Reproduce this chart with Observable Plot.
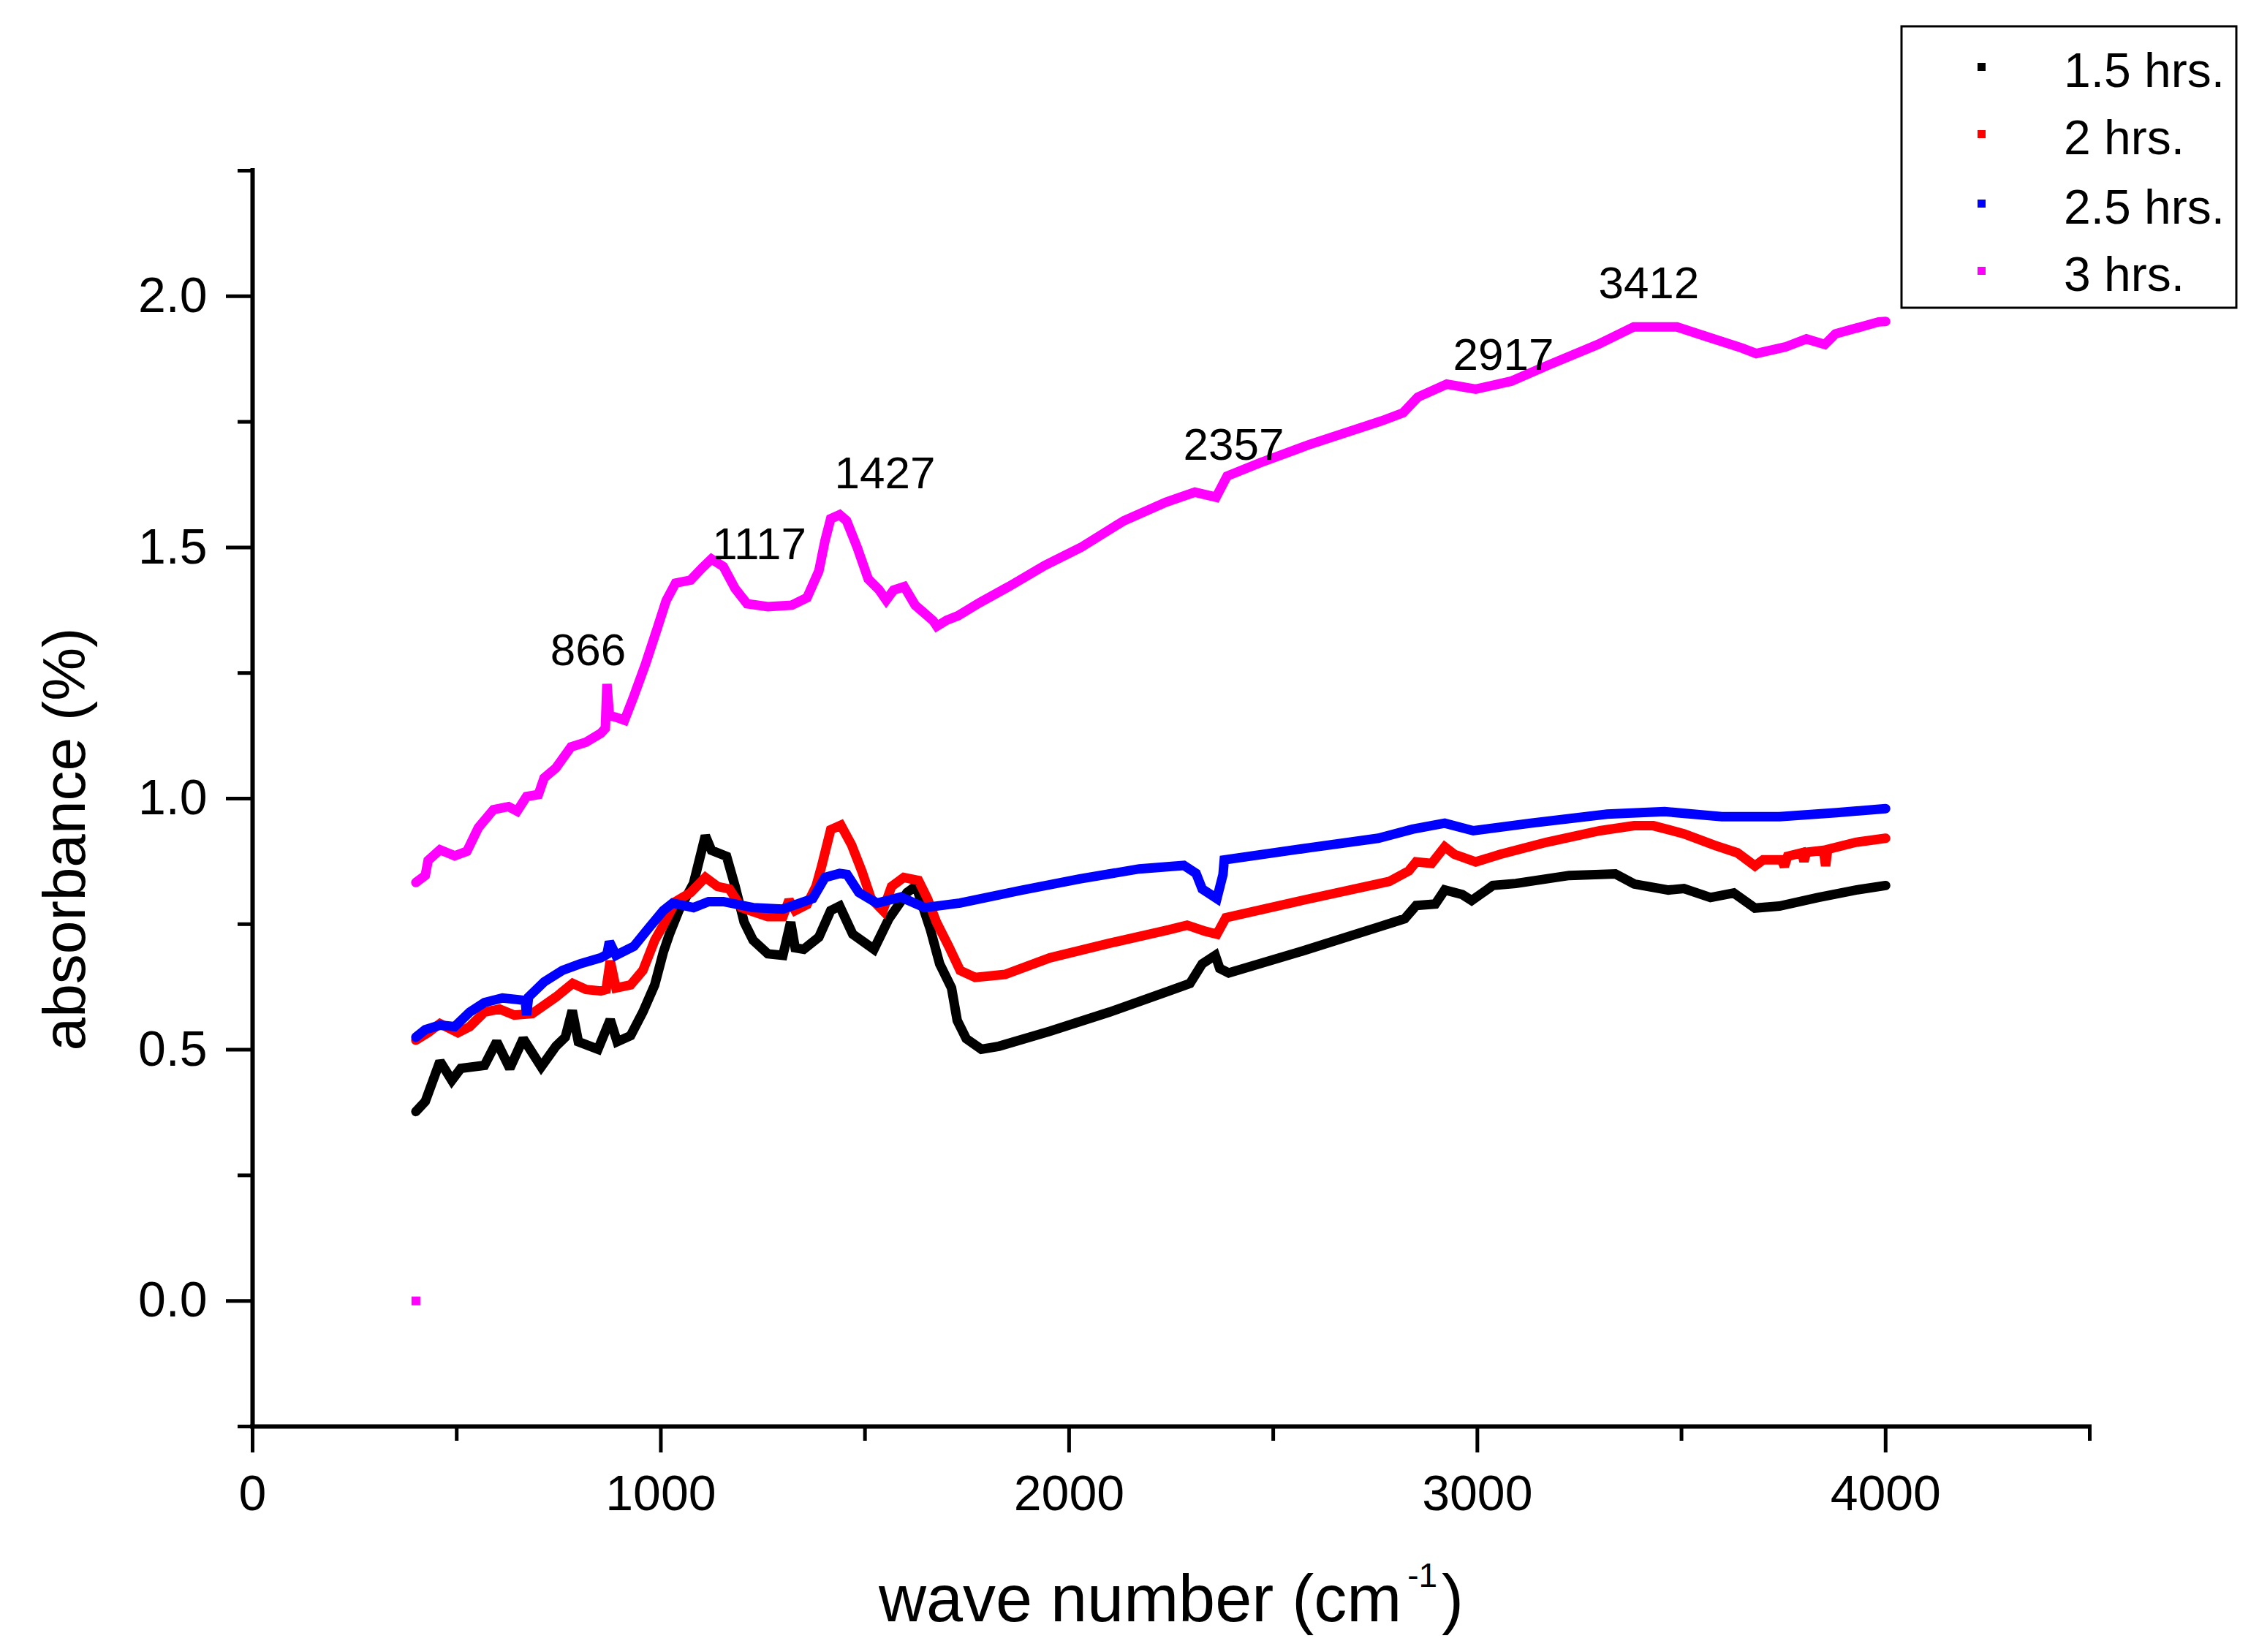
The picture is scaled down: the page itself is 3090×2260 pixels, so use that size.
<!DOCTYPE html>
<html><head><meta charset="utf-8">
<script src="https://cdn.jsdelivr.net/npm/d3@7"></script>
<script src="https://cdn.jsdelivr.net/npm/@observablehq/plot@0.6"></script>
<style>
html,body{margin:0;padding:0;background:#fff;}
#chart{position:relative;width:3090px;height:2260px;}
</style></head><body><div id="chart"></div>
<script>
const seriesNames = ["1.5 hrs.", "2 hrs.", "2.5 hrs.", "3 hrs."];
const seriesColors = ["#000000", "#ff0000", "#0000ff", "#ff00ff"];

const wn15 = [400,423,459,488,510,568,598,630,663,707,743,766,783,798,846,876,893,926,956,985,1006,1021,1044,1080,1109,1124,1161,1182,1204,1226,1262,1299,1318,1329,1350,1387,1416,1438,1470,1522,1558,1603,1625,1660,1683,1712,1726,1748,1785,1828,1953,2099,2245,2296,2326,2358,2369,2391,2569,2757,2822,2850,2897,2920,2963,2986,3038,3094,3225,3338,3384,3468,3506,3571,3628,3680,3740,3834,3927,4000];
const ab15 = [0.377,0.397,0.477,0.439,0.463,0.469,0.516,0.463,0.522,0.466,0.507,0.525,0.578,0.516,0.501,0.560,0.516,0.528,0.575,0.629,0.694,0.730,0.777,0.831,0.926,0.897,0.885,0.825,0.754,0.718,0.691,0.688,0.754,0.703,0.700,0.724,0.777,0.786,0.730,0.700,0.760,0.813,0.826,0.740,0.671,0.623,0.558,0.522,0.501,0.507,0.537,0.575,0.617,0.632,0.671,0.688,0.662,0.653,0.696,0.744,0.761,0.787,0.790,0.818,0.809,0.797,0.827,0.831,0.847,0.850,0.830,0.818,0.821,0.803,0.812,0.782,0.786,0.803,0.818,0.827];

const wn20 = [400,430,459,503,532,568,605,641,685,743,784,817,853,866,876,890,926,956,985,1006,1036,1073,1109,1139,1168,1197,1262,1299,1314,1329,1358,1380,1394,1416,1441,1467,1493,1515,1544,1565,1595,1631,1653,1675,1705,1733,1770,1843,1953,2099,2245,2289,2333,2362,2384,2569,2784,2832,2850,2888,2920,2944,2996,3056,3169,3300,3384,3431,3506,3581,3637,3680,3700,3745,3752,3760,3795,3800,3806,3848,3853,3858,3927,4000];
const ab20 = [0.519,0.534,0.552,0.534,0.546,0.575,0.581,0.569,0.572,0.605,0.632,0.620,0.617,0.620,0.677,0.623,0.629,0.658,0.718,0.748,0.795,0.813,0.843,0.825,0.820,0.783,0.765,0.765,0.798,0.777,0.789,0.825,0.866,0.938,0.947,0.908,0.854,0.801,0.777,0.825,0.843,0.837,0.801,0.754,0.706,0.658,0.644,0.650,0.683,0.712,0.739,0.748,0.736,0.730,0.763,0.797,0.835,0.856,0.874,0.871,0.904,0.889,0.874,0.889,0.913,0.936,0.946,0.946,0.930,0.907,0.892,0.866,0.878,0.878,0.865,0.885,0.892,0.875,0.893,0.897,0.866,0.899,0.913,0.921];

const wn25 = [400,423,459,495,532,568,612,648,668,671,676,714,759,802,853,868,874,890,934,970,1006,1029,1080,1117,1153,1226,1299,1372,1402,1438,1456,1485,1529,1588,1646,1733,1880,2026,2172,2281,2311,2326,2362,2377,2380,2587,2757,2841,2920,2990,3131,3318,3459,3599,3740,3880,4000];
const ab25 = [0.525,0.540,0.549,0.546,0.575,0.594,0.603,0.600,0.598,0.569,0.605,0.635,0.658,0.671,0.683,0.690,0.715,0.688,0.706,0.742,0.777,0.792,0.783,0.795,0.795,0.783,0.780,0.801,0.843,0.851,0.849,0.813,0.792,0.804,0.783,0.792,0.817,0.840,0.860,0.867,0.851,0.820,0.801,0.849,0.878,0.902,0.921,0.939,0.951,0.936,0.951,0.969,0.974,0.964,0.964,0.972,0.980];

const wn30 = [400,423,430,459,495,525,553,590,627,648,671,700,714,743,780,816,853,864,868,874,890,911,934,963,992,1013,1036,1073,1101,1124,1153,1182,1211,1262,1321,1358,1387,1402,1416,1438,1455,1481,1508,1534,1552,1570,1596,1623,1667,1676,1700,1728,1781,1852,1940,2029,2134,2237,2308,2360,2387,2466,2589,2766,2818,2854,2925,2996,3083,3171,3295,3383,3489,3560,3648,3683,3754,3806,3851,3877,3983,4000];
const ab30 = [0.833,0.847,0.877,0.898,0.886,0.895,0.942,0.978,0.984,0.975,1.004,1.008,1.041,1.061,1.103,1.112,1.130,1.140,1.228,1.165,1.162,1.156,1.204,1.269,1.341,1.394,1.429,1.435,1.459,1.477,1.462,1.418,1.388,1.382,1.385,1.400,1.453,1.513,1.557,1.565,1.553,1.500,1.437,1.416,1.395,1.415,1.422,1.385,1.354,1.343,1.355,1.364,1.390,1.422,1.464,1.500,1.553,1.590,1.610,1.600,1.642,1.668,1.705,1.752,1.768,1.799,1.825,1.815,1.831,1.862,1.904,1.939,1.939,1.920,1.897,1.886,1.899,1.915,1.904,1.925,1.949,1.950];

const strayWn = [400];
const strayAb = [0.0];

const peakLabels = ["866", "1117", "1427", "2357", "2917", "3412"];
const peakLabelWn = [822, 1241, 1549, 2403, 3064, 3420];
const peakLabelAb = [1.266, 1.477, 1.617, 1.675, 1.854, 1.996];

const xMajor = [0, 1000, 2000, 3000, 4000];
const xMinor = [500, 1500, 2500, 3500, 4500];
const yMajor = [0, 0.5, 1, 1.5, 2];
const yMinor = [-0.25, 0.25, 0.75, 1.25, 1.75, 2.25];

const toRows = (xs, ys) => xs.map((x, i) => ({x, y: ys[i]}));
const series = [toRows(wn15, ab15), toRows(wn20, ab20), toRows(wn25, ab25), toRows(wn30, ab30)];
const stray = toRows(strayWn, strayAb);
const peaks = peakLabels.map((t, i) => ({t, x: peakLabelWn[i], y: peakLabelAb[i]}));

const font = "'Liberation Sans', Arial, sans-serif";

const plot = Plot.plot({
  width: 3090, height: 2260,
  marginLeft: 345, marginRight: 232, marginTop: 233, marginBottom: 309,
  style: {fontFamily: font, background: "#fff", color: "#000", overflow: "visible"},
  x: {domain: [0, 4500], label: null},
  y: {domain: [-0.25, 2.25], label: null},
  marks: [
    Plot.axisX({ticks: xMajor, tickSize: 36, tickPadding: 30, fontSize: 68, strokeWidth: 5, tickFormat: d => String(d), label: null}),
    Plot.axisX({ticks: xMinor, tickSize: 20, strokeWidth: 5, tickFormat: () => "", label: null}),
    Plot.axisY({ticks: yMajor, tickSize: 36, tickPadding: 26, fontSize: 68, strokeWidth: 5, tickFormat: d3.format(".1f"), label: null}),
    Plot.axisY({ticks: yMinor, tickSize: 20, strokeWidth: 5, tickFormat: () => "", label: null}),
    Plot.ruleX([0], {strokeWidth: 6, strokeLinecap: "square"}),
    Plot.ruleY([-0.25], {strokeWidth: 6, strokeLinecap: "square"}),
    ...series.map((d, i) => Plot.line(d, {x: "x", y: "y", stroke: seriesColors[i], strokeWidth: 13, strokeLinejoin: "miter", strokeMiterlimit: 2})),
    Plot.dot(stray, {x: "x", y: "y", symbol: "square", r: 6.8, fill: seriesColors[3], stroke: null}),
    Plot.text(peaks, {x: "x", y: "y", text: "t", fontSize: 62, lineAnchor: "bottom", textAnchor: "middle", fill: "#000"})
  ]
});

document.getElementById("chart").appendChild(plot);

const svg = d3.select(plot);
svg.append("text")
  .attr("transform", "translate(116,1148) rotate(-90)")
  .attr("text-anchor", "middle")
  .attr("font-size", 82)
  .attr("font-family", font)
  .attr("fill", "#000")
  .text("absorbance (%)");

const xt = svg.append("text")
  .attr("x", 1602).attr("y", 2218)
  .attr("text-anchor", "middle")
  .attr("font-size", 90)
  .attr("font-family", font)
  .attr("fill", "#000");
xt.append("tspan").text("wave number (cm");
xt.append("tspan").attr("font-size", 46).attr("dy", -47).attr("dx", 8).text("-1");
xt.append("tspan").attr("dy", 47).attr("dx", 6).text(")");

const lg = svg.append("g").attr("font-family", font).attr("text-anchor", "start");
lg.append("rect").attr("x", 2601).attr("y", 36).attr("width", 458).attr("height", 385)
  .attr("fill", "#fff").attr("stroke", "#000").attr("stroke-width", 3);
const lgBase = [119, 211, 306, 398];
seriesNames.forEach((name, i) => {
  lg.append("rect").attr("x", 2705).attr("y", lgBase[i] - 33).attr("width", 11).attr("height", 11).attr("fill", seriesColors[i]);
  lg.append("text").attr("x", 2823).attr("y", lgBase[i]).attr("font-size", 66).attr("fill", "#000").attr("text-anchor", "start").text(name);
});
</script></body></html>
